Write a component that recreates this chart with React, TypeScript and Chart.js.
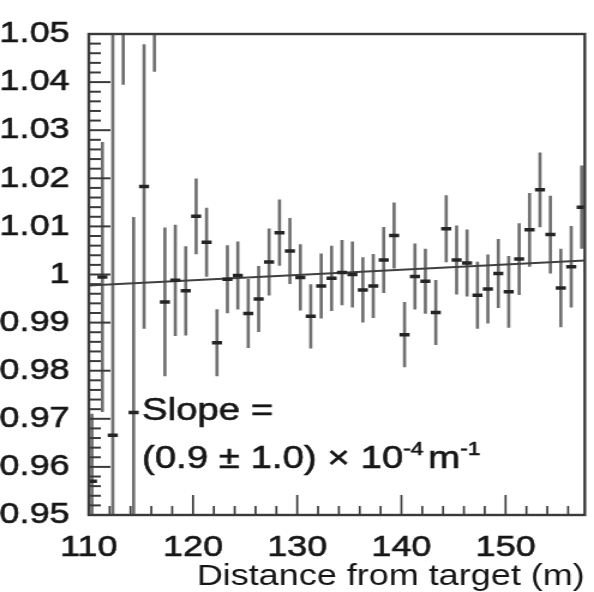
import React, { useEffect, useRef } from 'react';
import { Chart, registerables } from 'chart.js';

Chart.register(...registerables);

// ---- data ----
const xValues = [
  110.3, 111.3, 112.3, 113.3, 114.3, 115.3, 116.3, 117.3, 118.3, 119.3,
  120.3, 121.3, 122.3, 123.3, 124.3, 125.3, 126.3, 127.3, 128.3, 129.3,
  130.3, 131.3, 132.3, 133.3, 134.3, 135.3, 136.3, 137.3, 138.3, 139.3,
  140.3, 141.3, 142.3, 143.3, 144.3, 145.3, 146.3, 147.3, 148.3, 149.3,
  150.3, 151.3, 152.3, 153.3, 154.3, 155.3, 156.3, 157.3,
];
const yValues = [
  0.957, 0.9995, 0.9666, 1.06, 0.9713, 1.0183, 1.07, 0.9943, 0.9988, 0.9966,
  1.0121, 1.0067, 0.9858, 0.999, 0.9998, 0.9919, 0.9949, 1.0026, 1.0087, 1.0049,
  0.9994, 0.9913, 0.9976, 0.9992, 1.0004, 1.0, 0.9968, 0.9976, 1.003, 1.0081,
  0.9875, 0.9996, 0.9986, 0.9921, 1.0095, 1.003, 1.0024, 0.9957, 0.997, 1.0002,
  0.9964, 1.0032, 1.0093, 1.0176, 1.0083, 0.9972, 1.0016, 1.014,
];
const yErrors = [
  0.014, 0.028, 0.09, 0.0205, 0.0406, 0.0295, 0.0278, 0.0154, 0.0115, 0.0092,
  0.0078, 0.0071, 0.0069, 0.007, 0.007, 0.0071, 0.0068, 0.0069, 0.0068, 0.0068,
  0.0068, 0.0066, 0.0067, 0.0067, 0.0067, 0.0068, 0.0067, 0.0066, 0.0068, 0.0068,
  0.0067, 0.0068, 0.0067, 0.0067, 0.0069, 0.0071, 0.0069, 0.0069, 0.0071, 0.0071,
  0.0074, 0.0074, 0.0076, 0.0077, 0.008, 0.0081, 0.0084, 0.0086,
];
const fitX = [110, 157.6];
const fitY = [0.9977, 1.0029];

const xTickValues = [110, 120, 130, 140, 150];
const xTickLabels = ['110', '120', '130', '140', '150'];
const yTickValues = [0.95, 0.96, 0.97, 0.98, 0.99, 1.0, 1.01, 1.02, 1.03, 1.04, 1.05];
const yTickLabels = ['0.95', '0.96', '0.97', '0.98', '0.99', '1', '1.01', '1.02', '1.03', '1.04', '1.05'];

const xTitle = 'Distance from target (m)';
const slopeLine1 = 'Slope =';
const slopeLine2Main = '(0.9 \u00b1 1.0) \u00d7 10';
const slopeSup1 = '-4';
const slopeUnit = 'm';
const slopeSup2 = '-1';

// ---- layout / style ----
const W = 594;
const H = 592;
const STRETCH = 1.2;
const CW = Math.round(W / STRETCH);
const FONT = '"Liberation Sans", Arial, Helvetica, sans-serif';
const TEXT = '#161616';
const FRAME = '#3a3a3a';

export default function App() {
  const ref = useRef<HTMLCanvasElement | null>(null);

  useEffect(() => {
    const canvas = ref.current;
    if (!canvas) return;
    const ctx = canvas.getContext('2d');
    if (!ctx) return;

    const drawText = (c: CanvasRenderingContext2D, s: string, x: number, y: number) => {
      c.strokeText(s, x, y);
      c.fillText(s, x, y);
    };

    const decorPlugin = {
      id: 'decor',
      afterDraw(chart: any) {
        const c = chart.ctx as CanvasRenderingContext2D;
        const a = chart.chartArea;
        const xs = chart.scales.x;
        const ys = chart.scales.y;
        c.save();
        // frame
        c.strokeStyle = FRAME;
        c.lineWidth = 2.4;
        c.strokeRect(a.left, a.top, a.right - a.left, a.bottom - a.top);
        // y ticks (inward, left side)
        c.lineWidth = 2;
        for (let i = 0; i <= 50; i++) {
          const v = 0.95 + i * 0.002;
          const py = ys.getPixelForValue(v);
          const len = i % 5 === 0 ? 18 : 10;
          c.beginPath();
          c.moveTo(a.left, py);
          c.lineTo(a.left + len, py);
          c.stroke();
        }
        // x ticks (inward, bottom)
        c.lineWidth = 1.7;
        for (let m = 110; m <= 157; m += 2) {
          const px = xs.getPixelForValue(m);
          const len = m % 10 === 0 ? 20 : 9;
          c.beginPath();
          c.moveTo(px, a.bottom);
          c.lineTo(px, a.bottom - len);
          c.stroke();
        }
        // annotation
        c.fillStyle = TEXT;
        c.strokeStyle = TEXT;
        c.lineWidth = 0.6;
        c.textBaseline = 'alphabetic';
        c.textAlign = 'left';
        const tx = xs.getPixelForValue(115.1);
        const b1 = ys.getPixelForValue(0.9698);
        const b2 = ys.getPixelForValue(0.9597);
        c.font = `32px ${FONT}`;
        drawText(c, slopeLine1, tx, b1);
        let cx = tx;
        drawText(c, slopeLine2Main, cx, b2);
        cx += c.measureText(slopeLine2Main).width;
        c.font = `19px ${FONT}`;
        drawText(c, slopeSup1, cx, b2 - 13);
        cx += c.measureText(slopeSup1).width + 4;
        c.font = `32px ${FONT}`;
        drawText(c, slopeUnit, cx, b2);
        cx += c.measureText(slopeUnit).width;
        c.font = `19px ${FONT}`;
        drawText(c, slopeSup2, cx, b2 - 13);
        c.restore();
      },
    };

    const chart = new Chart(ctx, {
      type: 'scatter',
      data: {
        datasets: [
          {
            type: 'scatter',
            data: xValues.map((x, i) => ({ x, y: yValues[i] })),
            pointStyle: 'line',
            pointRadius: 4.2,
            pointHoverRadius: 4.2,
            borderWidth: 3.5,
            borderColor: '#242424',
            backgroundColor: '#242424',
            order: 0,
          } as any,
          {
            type: 'line',
            data: fitX.map((x, i) => ({ x, y: fitY[i] })),
            borderColor: '#404040',
            borderWidth: 2,
            pointRadius: 0,
            fill: false,
            clip: 0,
            order: 1,
          } as any,
          {
            type: 'bar',
            data: xValues.map((x, i) => ({ x, y: [yValues[i] - yErrors[i], yValues[i] + yErrors[i]] })),
            backgroundColor: '#707070',
            borderWidth: 0,
            barThickness: 2,
            grouped: false,
            clip: 0,
            order: 2,
          } as any,
        ],
      },
      options: {
        animation: false,
        responsive: false,
        devicePixelRatio: 1,
        events: [],
        layout: { padding: { top: 21, right: 1.7, left: 0, bottom: 0 } },
        plugins: { legend: { display: false }, tooltip: { enabled: false } },
        scales: {
          x: {
            type: 'linear',
            min: 110,
            max: 157.6,
            offset: false,
            grid: { display: false, drawTicks: false, offset: false },
            border: { display: false },
            afterBuildTicks: (s: any) => {
              s.ticks = xTickValues.map((v) => ({ value: v }));
            },
            ticks: {
              font: { size: 30, family: FONT },
              color: TEXT,
              textStrokeColor: TEXT,
              textStrokeWidth: 0.6,
              padding: 15,
              maxRotation: 0,
              autoSkip: false,
              callback: (_v: any, i: number) => xTickLabels[i],
            },
            title: {
              display: true,
              text: xTitle,
              align: 'end',
              color: TEXT,
              font: { size: 30, family: FONT, lineHeight: 1.0 },
              padding: { top: 0, bottom: 0 },
            },
            afterFit: (s: any) => {
              s.height = 77;
            },
          },
          y: {
            type: 'linear',
            min: 0.95,
            max: 1.05,
            beginAtZero: false,
            grid: { display: false, drawTicks: false },
            border: { display: false },
            afterBuildTicks: (s: any) => {
              s.ticks = yTickValues.map((v) => ({ value: v }));
            },
            ticks: {
              font: { size: 30, family: FONT },
              color: TEXT,
              textStrokeColor: TEXT,
              textStrokeWidth: 0.6,
              padding: 16,
              autoSkip: false,
              callback: (_v: any, i: number) => yTickLabels[i],
            },
            afterFit: (s: any) => {
              s.width = 74;
            },
          },
        },
      } as any,
      plugins: [decorPlugin],
    });

    return () => chart.destroy();
  }, []);

  return (
    <div style={{ position: 'fixed', left: 0, top: 0, width: W, height: H, background: '#fff', overflow: 'hidden' }}>
      <canvas
        ref={ref}
        width={CW}
        height={H}
        style={{ width: `${W}px`, height: `${H}px`, display: 'block' }}
      />
    </div>
  );
}
